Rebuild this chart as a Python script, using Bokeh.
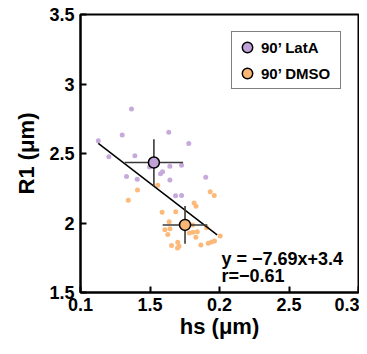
from bokeh.plotting import figure
from bokeh.models import Range1d, FixedTicker, Legend, LegendItem, Label
from bokeh.embed import file_html
from bokeh.resources import INLINE

# ---- data ----
latA_hs = [0.1367, 0.1128, 0.1300, 0.1635, 0.1779, 0.1204, 0.1391, 0.1497, 0.1643,
           0.1727, 0.1590, 0.1576, 0.1331, 0.1408, 0.1643, 0.1901, 0.1684, 0.1727]
latA_r1 = [2.820, 2.592, 2.633, 2.652, 2.572, 2.476, 2.483, 2.402, 2.408,
           2.415, 2.368, 2.354, 2.334, 2.315, 2.310, 2.330, 2.196, 2.198]
dmso_hs = [0.1410, 0.1556, 0.1344, 0.1933, 0.1962, 0.1817, 0.1831, 0.1587, 0.1685,
           0.1638, 0.1607, 0.1643, 0.1628, 0.1784, 0.1809, 0.1840, 0.1830, 0.1907,
           0.2005, 0.1655, 0.1700, 0.1709, 0.1698, 0.1866, 0.1919, 0.1942, 0.1964, 0.1806]
dmso_r1 = [2.237, 2.271, 2.164, 2.225, 2.198, 2.144, 2.120, 2.077, 2.081,
           2.009, 1.952, 1.959, 1.917, 1.928, 1.933, 1.937, 1.897, 1.966,
           1.906, 1.839, 1.861, 1.832, 1.820, 1.841, 1.854, 1.863, 1.870, 1.986]

mean_hs = [0.1528, 0.1752]
mean_r1 = [2.435, 1.986]
err_hs = [0.0210, 0.0161]
err_r1 = [0.168, 0.136]
group_names = ["90\u2019 LatA", "90\u2019 DMSO"]

fit_slope = -7.69
fit_intercept = 3.44
fit_x = [0.1128, 0.1983]
fit_text = ["y = \u22127.69x+3.4", "r=\u22120.61"]

x_ticks = [0.1, 0.15, 0.2, 0.25, 0.3]
x_tick_labels = ["0.1", "1.5", "0.2", "2.5", "0.3"]
y_ticks = [1.5, 2.0, 2.5, 3.0, 3.5]
y_tick_labels = ["1.5", "2", "2.5", "3", "3.5"]

# ---- styles ----
pt_colors = ["#C6AADC", "#FBB97A"]
mean_colors = ["#C0A2D8", "#F9B675"]
FONT = "Liberation Sans"

p = figure(width=359, height=346, output_backend="svg", toolbar_location=None,
           x_range=Range1d(0.1, 0.3), y_range=Range1d(1.5, 3.5),
           min_border_left=80, min_border_right=1, min_border_top=14, min_border_bottom=54)
p.grid.visible = False
p.outline_line_color = "black"
p.outline_line_width = 2
p.background_fill_color = "white"
p.border_fill_color = "white"

for ax in (p.xaxis[0], p.yaxis[0]):
    ax.axis_line_width = 2
    ax.major_tick_line_width = 2
    ax.major_tick_in = 6
    ax.major_tick_out = 0
    ax.minor_tick_line_color = None
    ax.major_label_text_font = FONT
    ax.major_label_text_font_style = "bold"
    ax.major_label_text_font_size = "18px"
    ax.major_label_text_color = "black"
    ax.axis_label_text_font = FONT
    ax.axis_label_text_font_style = "bold"
    ax.axis_label_text_font_size = "22px"
    ax.axis_label_text_color = "black"

p.xaxis.ticker = FixedTicker(ticks=x_ticks)
p.xaxis.major_label_overrides = {t: s for t, s in zip(x_ticks, x_tick_labels)}
p.yaxis.ticker = FixedTicker(ticks=y_ticks)
p.yaxis.major_label_overrides = {t: s for t, s in zip(y_ticks, y_tick_labels)}
p.xaxis.axis_label = "hs (\u03bcm)"
p.yaxis.axis_label = "R1 (\u03bcm)"
p.xaxis.major_label_standoff = 5
p.xaxis.axis_label_standoff = 0
p.yaxis.major_label_standoff = 6
p.yaxis.axis_label_standoff = 7

# scatter points
p.scatter(latA_hs, latA_r1, size=5, fill_color=pt_colors[0], line_color=None)
p.scatter(dmso_hs, dmso_r1, size=5, fill_color=pt_colors[1], line_color=None)

# fit line
fit_y = [fit_slope * x + fit_intercept for x in fit_x]
p.line(fit_x, fit_y, line_color="black", line_width=1.5)

# error bars
x0 = [m - e for m, e in zip(mean_hs, err_hs)]
x1 = [m + e for m, e in zip(mean_hs, err_hs)]
y0 = [m - e for m, e in zip(mean_r1, err_r1)]
y1 = [m + e for m, e in zip(mean_r1, err_r1)]
p.segment(x0, mean_r1, x1, mean_r1, line_color="#3a3a3a", line_width=1.6)
p.segment(mean_hs, y0, mean_hs, y1, line_color="#3a3a3a", line_width=1.6)

# means
mean_renderers = []
for i in range(2):
    r = p.scatter([mean_hs[i]], [mean_r1[i]], size=11, fill_color=mean_colors[i],
                  line_color="black", line_width=1.5)
    mean_renderers.append(r)

legend = Legend(items=[LegendItem(label=group_names[i], renderers=[mean_renderers[i]]) for i in range(2)],
                location="top_right", margin=17, padding=2, spacing=-2,
                glyph_width=26, glyph_height=26, label_standoff=1, label_width=77,
                label_text_font=FONT, label_text_font_style="bold", label_text_font_size="15px",
                label_text_color="black",
                border_line_color="black", border_line_width=1.5, background_fill_alpha=1.0)
p.add_layout(legend)

p.add_layout(Label(x=0.2014, y=1.74, text=fit_text[0], text_font=FONT, text_font_style="bold",
                   text_font_size="18px", text_baseline="alphabetic", text_color="black"))
p.add_layout(Label(x=0.2014, y=1.622, text=fit_text[1], text_font=FONT, text_font_style="bold",
                   text_font_size="18px", text_baseline="alphabetic", text_color="black"))

open("out.html", "w").write(file_html(p, INLINE))
